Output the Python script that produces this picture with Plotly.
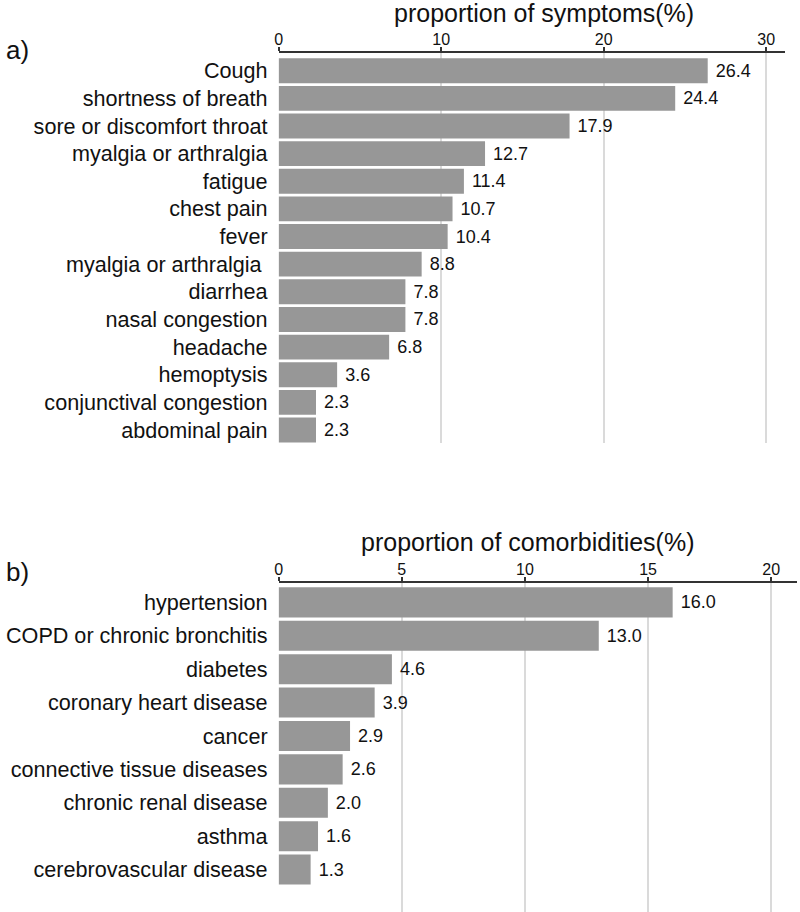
import plotly.graph_objects as go

# panel a) symptoms
symptoms = ["Cough", "shortness of breath", "sore or discomfort throat",
            "myalgia or arthralgia", "fatigue", "chest pain", "fever",
            "myalgia or arthralgia ", "diarrhea", "nasal congestion", "headache",
            "hemoptysis", "conjunctival congestion", "abdominal pain"]
symptom_pct = [26.4, 24.4, 17.9, 12.7, 11.4, 10.7, 10.4, 8.8, 7.8, 7.8, 6.8, 3.6, 2.3, 2.3]

# panel b) comorbidities
comorbidities = ["hypertension", "COPD or chronic bronchitis", "diabetes",
                 "coronary heart disease", "cancer", "connective tissue diseases",
                 "chronic renal disease", "asthma", "cerebrovascular disease"]
comorbidity_pct = [16.0, 13.0, 4.6, 3.9, 2.9, 2.6, 2.0, 1.6, 1.3]

FONT = "Liberation Sans, Arial, sans-serif"
BAR = "#979797"
GRID = "#dadada"
W, H = 800, 912


def py(px):
    # pixel row -> paper y
    return 1 - px / H


fig = go.Figure()

fig.add_trace(go.Bar(
    x=symptom_pct, y=symptoms, orientation="h",
    marker=dict(color=BAR, line=dict(width=0)),
    text=symptom_pct, texttemplate=" %{x:.1f}", textposition="outside",
    textfont=dict(size=18, color="#111"), cliponaxis=False,
    xaxis="x", yaxis="y",
))
fig.add_trace(go.Bar(
    x=comorbidity_pct, y=comorbidities, orientation="h",
    marker=dict(color=BAR, line=dict(width=0)),
    text=comorbidity_pct, texttemplate=" %{x:.1f}", textposition="outside",
    textfont=dict(size=18, color="#111"), cliponaxis=False,
    xaxis="x2", yaxis="y2",
))

xcommon = dict(
    side="top", showline=True, linecolor="#333", linewidth=1.5,
    ticks="outside", ticklen=4, tickcolor="#333", tickwidth=1.5,
    ticklabelstandoff=-4,
    showgrid=True, gridcolor=GRID, gridwidth=2, zeroline=False,
    tickfont=dict(size=16, color="#111", family=FONT),
)
ycommon = dict(
    type="category", showline=False, showgrid=False, zeroline=False,
    ticks="", ticklabelstandoff=10,
    tickfont=dict(size=21.6, color="#111", family=FONT),
)

fig.update_layout(
    width=W, height=H,
    margin=dict(l=0, r=0, t=0, b=0),
    paper_bgcolor="white", plot_bgcolor="white",
    showlegend=False, bargap=0.1,
    font=dict(family=FONT, color="#111"),
    xaxis=dict(domain=[276 / W, 785 / W], range=[0, 31.16], dtick=10,
               anchor="y", **xcommon),
    yaxis=dict(domain=[py(443), py(53)], range=[13.47, -0.64], anchor="x",
               **ycommon),
    xaxis2=dict(domain=[276 / W, 797 / W], range=[0, 21.05], dtick=5,
                anchor="y2", **xcommon),
    yaxis2=dict(domain=[py(912), py(583)], range=[9.27, -0.58], anchor="x2",
                **ycommon),
    annotations=[
        dict(text="proportion of symptoms(%)", x=543 / W, y=py(13),
             xref="paper", yref="paper", showarrow=False,
             xanchor="center", yanchor="middle", font=dict(size=25)),
        dict(text="proportion of comorbidities(%)", x=526 / W, y=py(542),
             xref="paper", yref="paper", showarrow=False,
             xanchor="center", yanchor="middle", font=dict(size=25)),
        dict(text="a)", x=0, y=py(50), xref="paper", yref="paper",
             showarrow=False, xanchor="left", yanchor="middle",
             font=dict(size=26)),
        dict(text="b)", x=0, y=py(572), xref="paper", yref="paper",
             showarrow=False, xanchor="left", yanchor="middle",
             font=dict(size=26)),
    ],
)

# drop the default body margin so the figure sits at the page corner
fig.write_html("out.html", config={"displayModeBar": False},
               post_script="document.body.style.margin='0px';")
